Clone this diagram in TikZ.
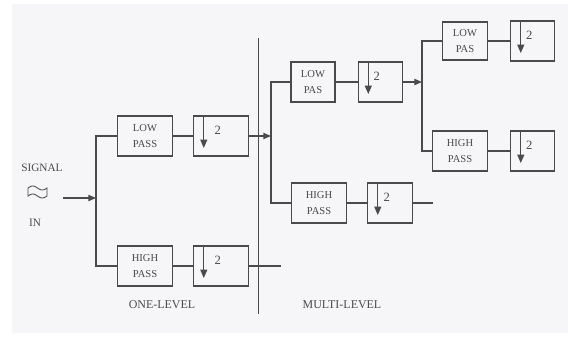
\documentclass[tikz,border=0pt]{standalone}
\usepackage{fontspec}
\setmainfont{Liberation Serif}
\usepackage{tikz}
\usetikzlibrary{arrows.meta, positioning, calc}
\definecolor{inkgray}{HTML}{4A4A4A}
\definecolor{paper}{HTML}{F6F5F7}

\begin{document}
\begin{tikzpicture}[
      x=0.025cm, y=-0.025cm,
      node distance=0.55cm,
      box/.style={
          draw=inkgray,
          minimum width=1.375cm,
          minimum height=1cm,
          inner sep=1pt,
          align=center,
          font=\fontsize{7.5}{11}\selectfont,
          text=inkgray,
          line width=0.9pt
      },
      narrow/.style={minimum width=1.1cm},
      dsbox/.style={
          box,
          label={[font=\fontsize{9}{9}\selectfont, text=inkgray, xshift=-0.09cm, yshift=0.15cm]center:2},
          path picture={
              \draw[inkgray, line width=0.8pt, -{Triangle[length=6pt, width=5pt]}]
                  ([xshift=0.25cm]path picture bounding box.north west) -- ++(0,-0.8cm);
          }
      },
      arrow/.style={draw=inkgray, line width=0.9pt, -{Triangle[length=5.5pt, width=4.5pt]}},
      wire/.style={draw=inkgray, line width=0.9pt},
      caption/.style={font=\fontsize{8.5}{9}\selectfont, text=inkgray}
  ]

  % ══════════════════════════════
  % PAGE
  % ══════════════════════════════
  \useasboundingbox (0,0) rectangle (568,338);
  \fill[white] (0,0) rectangle (568,338);
  \fill[paper] (12,4) rectangle (568,333);

  % ══════════════════════════════
  % SIGNAL IN
  % ══════════════════════════════
  \node[caption, font=\fontsize{8}{9}\selectfont] (signal) at (42,168) {SIGNAL};
  \node[caption, font=\fontsize{8}{9}\selectfont] (inlabel) at (35,223) {IN};

  \draw[inkgray, line width=0.6pt]
      plot[domain=0:19, smooth, samples=15] ({28+\x},{188-2*sin(\x/19*360)})
      -- plot[domain=19:0, smooth, samples=15] ({28+\x},{196-2*sin(\x/19*360)})
      -- cycle;

  % ══════════════════════════════
  % ONE-LEVEL
  % ══════════════════════════════
  \node[box] (lowA) at (145,136) {LOW\\PASS};
  \node[dsbox, right=0.5cm of lowA] (downA) {};

  \node[box] (highA) at (145,266) {HIGH\\PASS};
  \node[dsbox, right=0.5cm of highA] (downB) {};

  % ══════════════════════════════
  % MULTI-LEVEL
  % ══════════════════════════════
  \node[box, narrow] (lowB) at (313,82) {LOW\\PAS};
  \node[dsbox, narrow, right=of lowB] (downC) {};

  \node[box] (highB) at (319,203) {HIGH\\PASS};
  \node[dsbox, minimum width=1.125cm, right=0.5cm of highB] (downD) {};

  \node[box, minimum width=1.125cm, minimum height=0.95cm] (lowC) at (465,41) {LOW\\PAS};
  \node[dsbox, narrow, right=of lowC] (downE) {};

  \node[box] (highC) at (460,151) {HIGH\\PASS};
  \node[dsbox, narrow, right=of highC] (downF) {};

  % ══════════════════════════════
  % SPLITS AND WIRES
  % ══════════════════════════════
  \coordinate (sigin) at (63,198);
  \coordinate (split1) at (96,198);
  \coordinate (split2) at (271,136);
  \coordinate (split3) at (422,82);
  \coordinate (tailA) at (281,266);
  \coordinate (tailB) at (433,203);

  \draw[arrow] (sigin) -- (split1);
  \draw[wire] (lowA.west) -| (split1) |- (highA.west);
  \draw[wire] (lowA) -- (downA);
  \draw[wire] (highA) -- (downB);
  \draw[wire] (downB) -- (tailA);

  \draw[arrow] (downA) -- (split2);
  \draw[wire] (lowB.west) -| (split2) |- (highB.west);
  \draw[wire] (lowB) -- (downC);
  \draw[wire] (highB) -- (downD);
  \draw[wire] (downD) -- (tailB);

  \draw[arrow] (downC) -- (split3);
  \draw[wire] (lowC.west) -| (split3) |- (highC.west);
  \draw[wire] (lowC) -- (downE);
  \draw[wire] (highC) -- (downF);

  % ══════════════════════════════
  % DIVIDER AND CAPTIONS
  % ══════════════════════════════
  \coordinate (divtop) at (258,38);
  \coordinate (divbot) at (258,314);
  \draw[wire, line width=0.6pt] (divtop) -- (divbot);

  \node[caption] (onelevel) at (162,305) {ONE-LEVEL};
  \node[caption] (multilevel) at (342,305) {MULTI-LEVEL};

\end{tikzpicture}
\end{document}
